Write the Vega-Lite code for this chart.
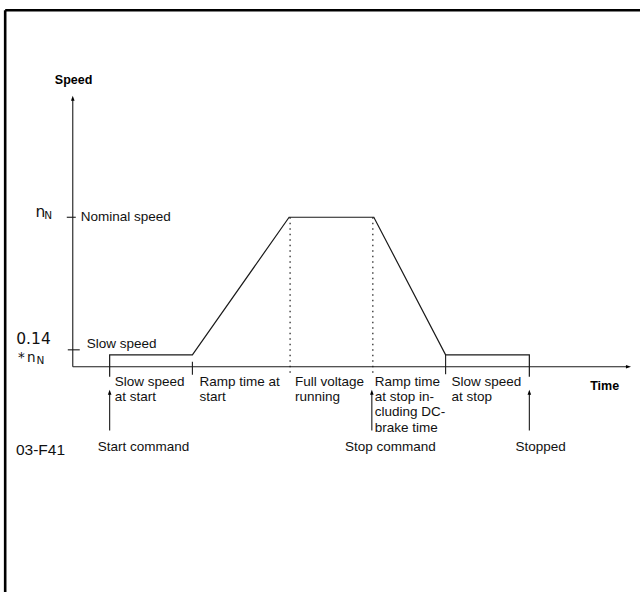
{
  "$schema": "https://vega.github.io/schema/vega-lite/v6.json",
  "width": 642,
  "height": 594,
  "autosize": {"type": "fit", "contains": "padding"},
  "padding": 0,
  "background": "white",
  "config": {"view": {"stroke": null}},
  "datasets": {
    "frame": [
      {"t": -6.78, "s": 238.47, "t2": 56.9, "s2": 238.47},
      {"t": -6.78, "s": 238.47, "t2": -6.78, "s2": -150.67}
    ],
    "solid": [
      {"t": 0, "s": 0, "t2": 0, "s2": 178.5},
      {"t": 0, "s": 0, "t2": 55.5, "s2": 0},
      {"t": -0.6, "s": 100, "t2": 0.3, "s2": 100},
      {"t": -0.5, "s": 11.33, "t2": 0.7, "s2": 11.33},
      {"t": 12, "s": 3.33, "t2": 12, "s2": -5.33},
      {"t": 37.4, "s": 8, "t2": 37.4, "s2": -5},
      {"t": 3.7, "s": -42.67, "t2": 3.7, "s2": -18},
      {"t": 30, "s": -42.67, "t2": 30, "s2": -18},
      {"t": 45.8, "s": -42.67, "t2": 45.8, "s2": -18}
    ],
    "dotted": [
      {"t": 21.8, "s": 100, "t2": 21.8, "s2": -4},
      {"t": 30.1, "s": 100, "t2": 30.1, "s2": -5}
    ],
    "profile": [
      {"o": 1, "t": 3.7, "s": -6.67},
      {"o": 2, "t": 3.7, "s": 8},
      {"o": 3, "t": 12, "s": 8},
      {"o": 4, "t": 21.7, "s": 100},
      {"o": 5, "t": 30.2, "s": 100},
      {"o": 6, "t": 37.4, "s": 8},
      {"o": 7, "t": 45.8, "s": 8},
      {"o": 8, "t": 45.8, "s": -6.67}
    ],
    "headsUp": [
      {"t": 0, "s": 179.3},
      {"t": 3.7, "s": -17.33},
      {"t": 30, "s": -17.33},
      {"t": 45.8, "s": -17.33}
    ],
    "headsRight": [
      {"t": 55.7, "s": 0}
    ],
    "labels": [
      {"t": 0.8, "s": 97.33, "label": "Nominal speed"},
      {"t": 1.4, "s": 12.67, "label": "Slow speed"},
      {"t": 4.2, "s": -12.67, "label": "Slow speed\nat start"},
      {"t": 12.7, "s": -12.67, "label": "Ramp time at\nstart"},
      {"t": 22.3, "s": -12.67, "label": "Full voltage\nrunning"},
      {"t": 30.3, "s": -12.67, "label": "Ramp time\nat stop in-\ncluding DC-\nbrake time"},
      {"t": 38, "s": -12.67, "label": "Slow speed\nat stop"},
      {"t": 2.5, "s": -56.5, "label": "Start command"},
      {"t": 27.3, "s": -56.5, "label": "Stop command"},
      {"t": 44.4, "s": -56.5, "label": "Stopped"}
    ],
    "titles": [
      {"t": -1.8, "s": 188.9, "label": "Speed"},
      {"t": 51.9, "s": -15.33, "label": "Time"}
    ],
    "bigSymbols": [
      {"t": -3.75, "s": 100, "label": "n"},
      {"t": -5.67, "s": 14.9, "label": "0.14"}
    ],
    "midSymbols": [
      {"t": -5.5, "s": 3.13, "label": "*"},
      {"t": -4.6, "s": 3.13, "label": "n"}
    ],
    "subscripts": [
      {"t": -2.87, "s": 98.67, "label": "N"},
      {"t": -3.65, "s": 2, "label": "N"}
    ],
    "code": [
      {"t": -5.7, "s": -59.1, "label": "03-F41"}
    ]
  },
  "encoding": {
    "x": {"field": "t", "type": "quantitative", "scale": {"domain": [-7.3, 56.9], "nice": false, "zero": false}, "axis": null},
    "y": {"field": "s", "type": "quantitative", "scale": {"domain": [-150.667, 245.333], "nice": false, "zero": false}, "axis": null}
  },
  "layer": [
    {
      "data": {"name": "frame"},
      "mark": {"type": "rule", "color": "#000000", "strokeWidth": 2.6},
      "encoding": {"x2": {"field": "t2"}, "y2": {"field": "s2"}}
    },
    {
      "data": {"name": "solid"},
      "mark": {"type": "rule", "color": "#1a1a1a", "strokeWidth": 1.1},
      "encoding": {"x2": {"field": "t2"}, "y2": {"field": "s2"}}
    },
    {
      "data": {"name": "dotted"},
      "mark": {"type": "rule", "color": "#1a1a1a", "strokeWidth": 1.2, "strokeDash": [1.5, 4]},
      "encoding": {"x2": {"field": "t2"}, "y2": {"field": "s2"}}
    },
    {
      "data": {"name": "profile"},
      "mark": {"type": "line", "color": "#1a1a1a", "strokeWidth": 1.2, "interpolate": "linear"},
      "encoding": {"order": {"field": "o", "type": "quantitative"}}
    },
    {
      "data": {"name": "headsUp"},
      "mark": {"type": "point", "shape": "M0,-1L0.6,0.7L-0.6,0.7Z", "filled": true, "size": 36, "color": "#000000", "opacity": 1},
      "encoding": {}
    },
    {
      "data": {"name": "headsRight"},
      "mark": {"type": "point", "shape": "M1,0L-0.7,0.6L-0.7,-0.6Z", "filled": true, "size": 36, "color": "#000000", "opacity": 1},
      "encoding": {}
    },
    {
      "data": {"name": "labels"},
      "mark": {"type": "text", "align": "left", "baseline": "alphabetic", "font": "Liberation Sans", "fontSize": 13.5, "color": "#111111", "lineBreak": "\n", "lineHeight": 15.3},
      "encoding": {"text": {"field": "label"}}
    },
    {
      "data": {"name": "titles"},
      "mark": {"type": "text", "align": "left", "baseline": "alphabetic", "font": "Liberation Sans", "fontWeight": "bold", "fontSize": 12.5, "color": "#000000"},
      "encoding": {"text": {"field": "label"}}
    },
    {
      "data": {"name": "bigSymbols"},
      "mark": {"type": "text", "align": "left", "baseline": "alphabetic", "font": "DejaVu Sans", "fontSize": 15.5, "color": "#111111"},
      "encoding": {"text": {"field": "label"}}
    },
    {
      "data": {"name": "midSymbols"},
      "mark": {"type": "text", "align": "left", "baseline": "alphabetic", "font": "DejaVu Sans", "fontSize": 13.5, "color": "#111111"},
      "encoding": {"text": {"field": "label"}}
    },
    {
      "data": {"name": "subscripts"},
      "mark": {"type": "text", "align": "left", "baseline": "alphabetic", "font": "DejaVu Sans", "fontSize": 10.5, "color": "#111111"},
      "encoding": {"text": {"field": "label"}}
    },
    {
      "data": {"name": "code"},
      "mark": {"type": "text", "align": "left", "baseline": "alphabetic", "font": "Liberation Sans", "fontSize": 15.5, "color": "#111111"},
      "encoding": {"text": {"field": "label"}}
    }
  ]
}
